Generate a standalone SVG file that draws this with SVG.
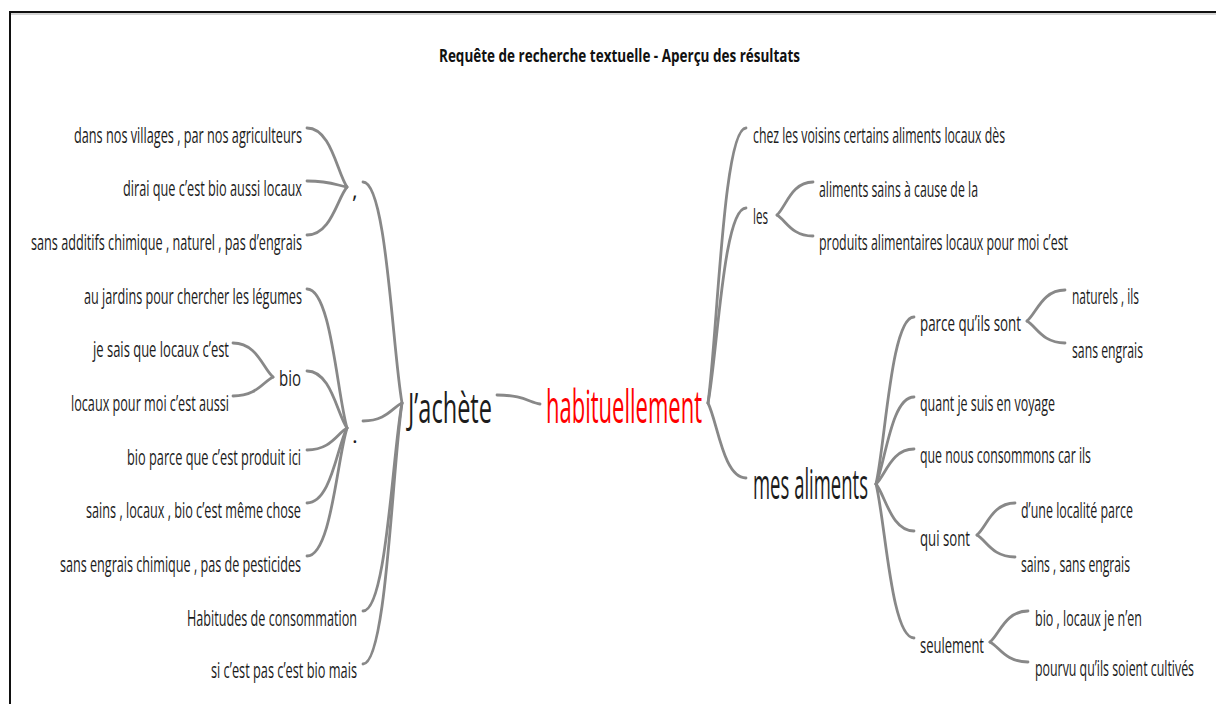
<svg xmlns="http://www.w3.org/2000/svg" width="1216" height="704" viewBox="0 0 1216 704">
<style>
text{font-family:"Open Sans","Noto Sans","Liberation Sans",sans-serif;fill:#1c1c1c}
.s{font-size:22px}
.b{font-size:42px}
.r{fill:#ff0000;font-size:45px}
.t{font-size:17.5px;font-weight:bold;fill:#111}
.c path{fill:none;stroke:#888;stroke-width:2.8;stroke-linecap:round}
</style>
<rect width="1216" height="704" fill="#fff"/>
<path d="M10,704 V12 H1216" fill="none" stroke="#111" stroke-width="2"/>
<line x1="11" y1="14" x2="1216" y2="14" stroke="#aaa" stroke-width="1"/>
<g id="title"><text class="t" x="439" y="62" textLength="361" lengthAdjust="spacingAndGlyphs">Requête de recherche textuelle - Aperçu des résultats</text></g>
<g class="c" id="connectors">
<path d="M540,404 C529.3,402.3 522.8,395 497,395"/>
<path d="M708,403 C717.5,334.3 723.2,128 746,128"/>
<path d="M708,403 C717.5,354.3 723.2,208 746,208"/>
<path d="M708,403 C717.5,421.8 723.2,478 746,478"/>
<path d="M777,215 C786,206.8 791.4,182 813,182"/>
<path d="M777,215 C786,220.3 791.4,236 813,236"/>
<path d="M876,484 C885.5,442.3 891.2,317 914,317"/>
<path d="M876,484 C885.5,462.3 891.2,397 914,397"/>
<path d="M876,484 C885.5,475.3 891.2,449 914,449"/>
<path d="M876,484 C885.5,495.8 891.2,531 914,531"/>
<path d="M876,484 C885.5,522.5 891.2,638 914,638"/>
<path d="M1027,321 C1036.5,313.3 1042.2,290 1065,290"/>
<path d="M1027,321 C1036.5,326.5 1042.2,343 1065,343"/>
<path d="M977,535 C986.5,527 992.2,503 1015,503"/>
<path d="M977,535 C986.5,540.5 992.2,557 1015,557"/>
<path d="M990,642 C999.5,634.3 1005.2,611 1028,611"/>
<path d="M990,642 C999.5,647 1005.2,662 1028,662"/>
<path d="M402,403 C392.3,347.8 386.4,182 363,182"/>
<path d="M402,403 C392.3,407.5 386.4,421 363,421"/>
<path d="M402,403 C392.3,455 386.4,611 363,611"/>
<path d="M402,403 C392.3,468.3 386.4,664 363,664"/>
<path d="M347,187 C337,172.3 331,128 307,128"/>
<path d="M347,187 C337,185.5 331,181 307,181"/>
<path d="M347,187 C337,199 331,235 307,235"/>
<path d="M347,428 C337,393.3 331,289 307,289"/>
<path d="M347,428 C337,413.8 331,371 307,371"/>
<path d="M347,428 C337,433.5 331,450 307,450"/>
<path d="M347,428 C337,446.8 331,503 307,503"/>
<path d="M347,428 C337,460 331,556 307,556"/>
<path d="M273,377 C263,368.5 257,343 233,343"/>
<path d="M273,377 C263,381.8 257,396 233,396"/>
</g>
<g id="n-habituellement"><text class="r" x="546" y="423" textLength="156" lengthAdjust="spacingAndGlyphs">habituellement</text></g>
<g id="n-jachete"><text class="b" x="408" y="423" textLength="84" lengthAdjust="spacingAndGlyphs">J’achète</text></g>
<g id="n-comma"><text class="s" x="352" y="198">,</text></g>
<g id="n-dot"><text class="s" x="352" y="443">.</text></g>
<g id="n-bio"><text class="s" x="279" y="386" textLength="22" lengthAdjust="spacingAndGlyphs">bio</text></g>
<g id="n-l1"><text class="s" x="74" y="143" textLength="228" lengthAdjust="spacingAndGlyphs">dans nos villages , par nos agriculteurs</text></g>
<g id="n-l2"><text class="s" x="123" y="196" textLength="179" lengthAdjust="spacingAndGlyphs">dirai que c’est bio aussi locaux</text></g>
<g id="n-l3"><text class="s" x="31" y="250" textLength="271" lengthAdjust="spacingAndGlyphs">sans additifs chimique , naturel , pas d’engrais</text></g>
<g id="n-l4"><text class="s" x="84" y="304" textLength="218" lengthAdjust="spacingAndGlyphs">au jardins pour chercher les légumes</text></g>
<g id="n-l5"><text class="s" x="93" y="357" textLength="136" lengthAdjust="spacingAndGlyphs">je sais que locaux c’est</text></g>
<g id="n-l6"><text class="s" x="71" y="411" textLength="158" lengthAdjust="spacingAndGlyphs">locaux pour moi c’est aussi</text></g>
<g id="n-l7"><text class="s" x="127" y="465" textLength="174" lengthAdjust="spacingAndGlyphs">bio parce que c’est produit ici</text></g>
<g id="n-l8"><text class="s" x="86" y="518" textLength="215" lengthAdjust="spacingAndGlyphs">sains , locaux , bio c’est même chose</text></g>
<g id="n-l9"><text class="s" x="60" y="572" textLength="241" lengthAdjust="spacingAndGlyphs">sans engrais chimique , pas de pesticides</text></g>
<g id="n-l10"><text class="s" x="187" y="626" textLength="170" lengthAdjust="spacingAndGlyphs">Habitudes de consommation</text></g>
<g id="n-l11"><text class="s" x="211" y="678" textLength="146" lengthAdjust="spacingAndGlyphs">si c’est pas c’est bio mais</text></g>
<g id="n-r1"><text class="s" x="753" y="143" textLength="252" lengthAdjust="spacingAndGlyphs">chez les voisins certains aliments locaux dès</text></g>
<g id="n-les"><text class="s" x="753" y="224" textLength="15" lengthAdjust="spacingAndGlyphs">les</text></g>
<g id="n-r2"><text class="s" x="819" y="197" textLength="159" lengthAdjust="spacingAndGlyphs">aliments sains à cause de la</text></g>
<g id="n-r3"><text class="s" x="819" y="250" textLength="249" lengthAdjust="spacingAndGlyphs">produits alimentaires locaux pour moi c’est</text></g>
<g id="n-mes"><text class="b" x="753" y="499" textLength="115" lengthAdjust="spacingAndGlyphs">mes aliments</text></g>
<g id="n-parce"><text class="s" x="920" y="331" textLength="101" lengthAdjust="spacingAndGlyphs">parce qu’ils sont</text></g>
<g id="n-r4"><text class="s" x="1072" y="304" textLength="67" lengthAdjust="spacingAndGlyphs">naturels , ils</text></g>
<g id="n-r5"><text class="s" x="1072" y="358" textLength="71" lengthAdjust="spacingAndGlyphs">sans engrais</text></g>
<g id="n-r6"><text class="s" x="920" y="411" textLength="135" lengthAdjust="spacingAndGlyphs">quant je suis en voyage</text></g>
<g id="n-r7"><text class="s" x="920" y="463" textLength="171" lengthAdjust="spacingAndGlyphs">que nous consommons car ils</text></g>
<g id="n-qui"><text class="s" x="920" y="546" textLength="50" lengthAdjust="spacingAndGlyphs">qui sont</text></g>
<g id="n-r8"><text class="s" x="1021" y="518" textLength="112" lengthAdjust="spacingAndGlyphs">d’une localité parce</text></g>
<g id="n-r9"><text class="s" x="1021" y="572" textLength="109" lengthAdjust="spacingAndGlyphs">sains , sans engrais</text></g>
<g id="n-seul"><text class="s" x="920" y="653" textLength="64" lengthAdjust="spacingAndGlyphs">seulement</text></g>
<g id="n-r10"><text class="s" x="1035" y="626" textLength="107" lengthAdjust="spacingAndGlyphs">bio , locaux je n’en</text></g>
<g id="n-r11"><text class="s" x="1035" y="676" textLength="159" lengthAdjust="spacingAndGlyphs">pourvu qu’ils soient cultivés</text></g>
</svg>
